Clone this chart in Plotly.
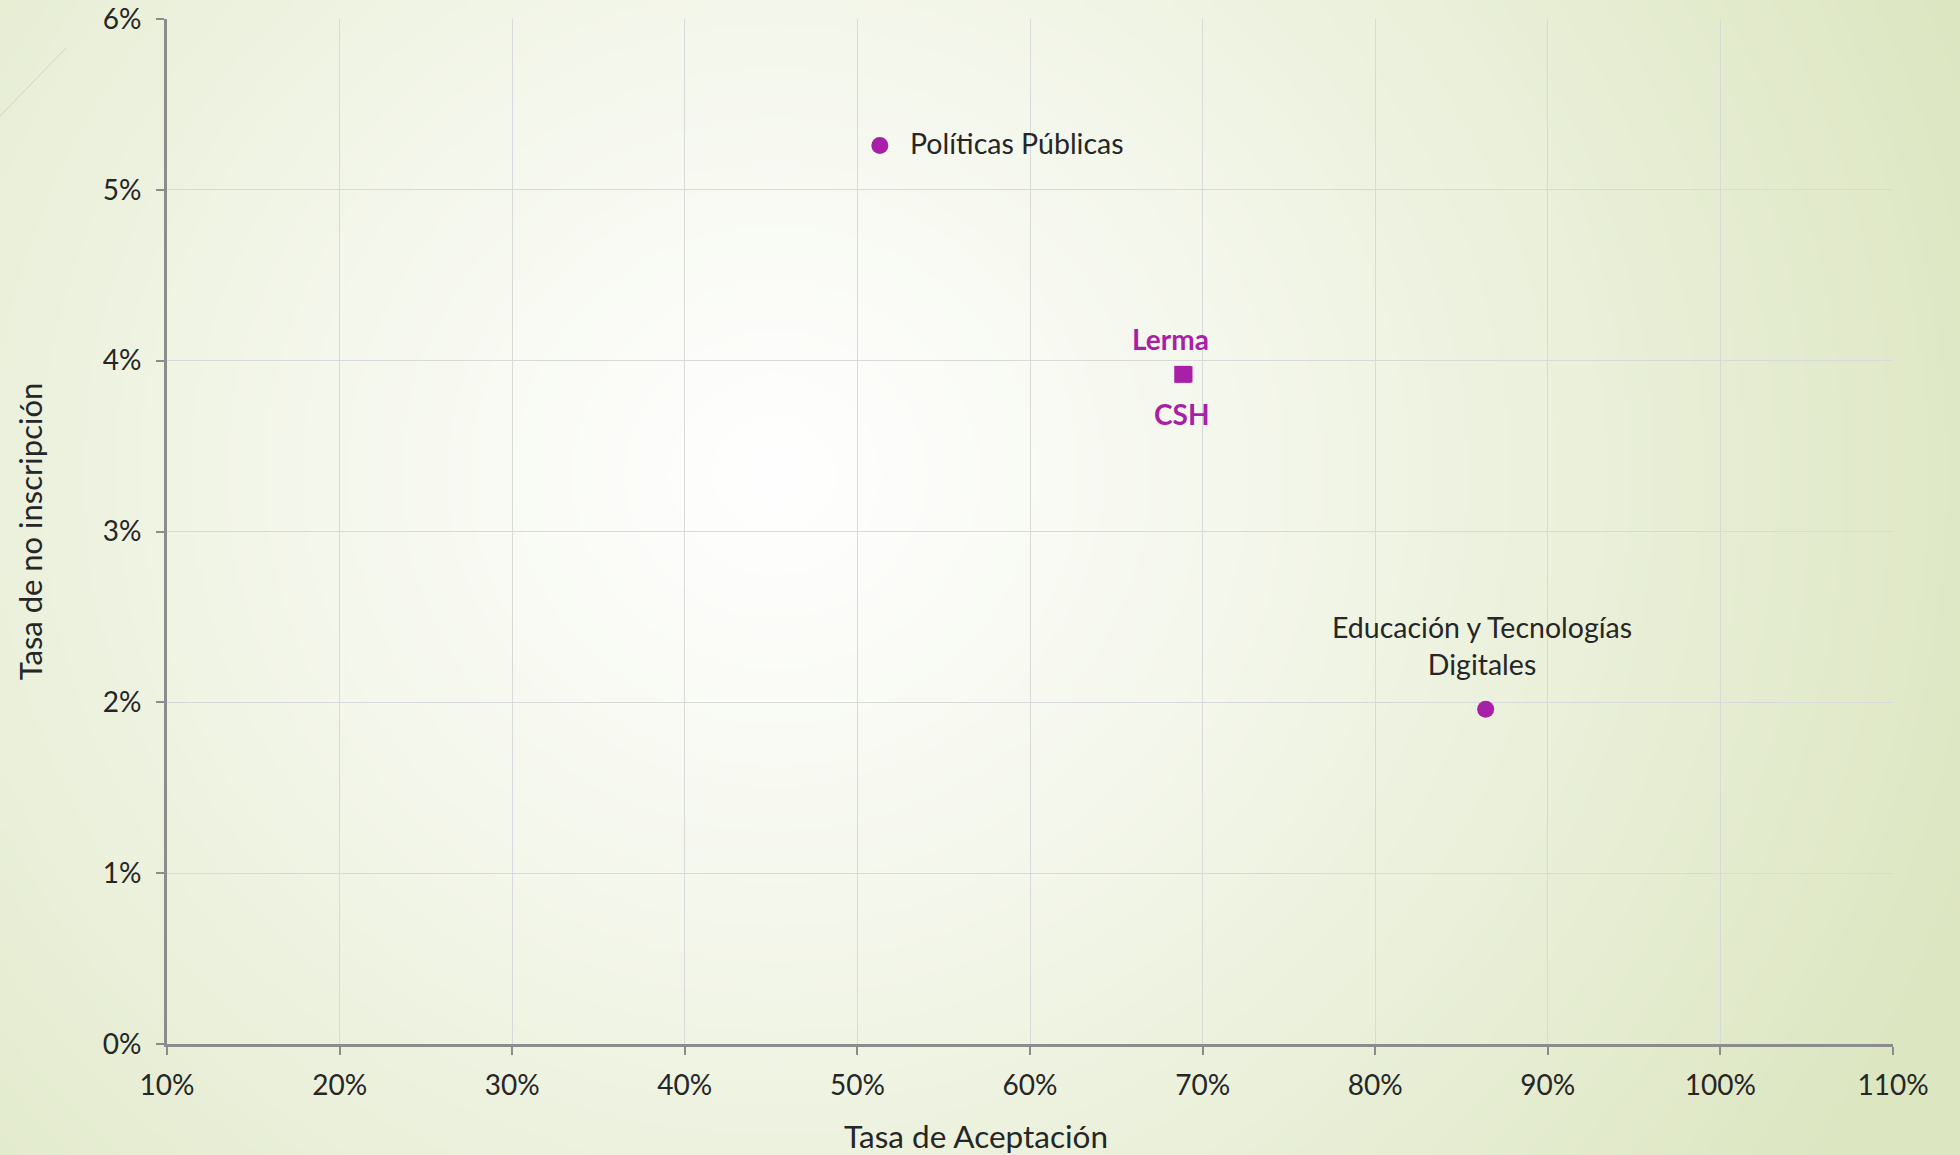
import base64, struct, zlib
import numpy as np
import plotly.graph_objects as go

# ---- data ----
programs = ["Políticas Públicas", "Educación y Tecnologías<br>Digitales"]
prog_accept = [0.513, 0.864]
prog_noenroll = [0.0526, 0.0196]

groups = ["Lerma", "CSH"]
group_accept = [0.6885, 0.6895]
group_noenroll = [0.0392, 0.0392]

x_ticks = [0.1, 0.2, 0.3, 0.4, 0.5, 0.6, 0.7, 0.8, 0.9, 1.0, 1.1]
y_ticks = [0, 0.01, 0.02, 0.03, 0.04, 0.05, 0.06]

x_title = "Tasa de Aceptación"
y_title = "Tasa de no inscripción"

W, H = 1960, 1155
ML, MR, MT, MB = 167, 67, 19, 111
PW, PH = W - ML - MR, H - MT - MB

MAG = "#A81FA8"
TXT = "#262626"
FONT = "Lato"


# ---- background radial gradient as PNG ----
def make_png(arr):
    h, w, _ = arr.shape
    raw = b"".join(b"\x00" + arr[i].tobytes() for i in range(h))

    def chunk(t, d):
        c = struct.pack(">I", len(d)) + t + d
        return c + struct.pack(">I", zlib.crc32(t + d) & 0xffffffff)

    png = b"\x89PNG\r\n\x1a\n"
    png += chunk(b"IHDR", struct.pack(">IIBBBBB", w, h, 8, 2, 0, 0, 0))
    png += chunk(b"IDAT", zlib.compress(raw, 9))
    png += chunk(b"IEND", b"")
    return "data:image/png;base64," + base64.b64encode(png).decode()


gw, gh = 392, 231
yy, xx = np.mgrid[0:gh, 0:gw]
px = (xx + 0.5) * W / gw
py = (yy + 0.5) * H / gh
d = np.sqrt((px - 775) ** 2 + ((py - 475) * 1.05) ** 2)
t = np.clip(d / 1300.0, 0, 1) ** 1.15
c0 = np.array([255, 255, 255], float)
c1 = np.array([220, 230, 192], float)
img = (c0[None, None, :] * (1 - t[..., None]) + c1[None, None, :] * t[..., None])
img = np.clip(img, 0, 255).astype(np.uint8)
bg_src = make_png(img)

fig = go.Figure()

fig.add_trace(go.Scatter(
    x=prog_accept, y=prog_noenroll, mode="markers",
    marker=dict(color=MAG, size=17, symbol="circle"),
    hoverinfo="skip", showlegend=False))
fig.add_trace(go.Scatter(
    x=[group_accept[1]], y=[group_noenroll[1]], mode="markers",
    marker=dict(color=MAG, size=16, symbol="square"),
    hoverinfo="skip", showlegend=False))
fig.add_trace(go.Scatter(
    x=[group_accept[0]], y=[group_noenroll[0]], mode="markers",
    marker=dict(color=MAG, size=17, symbol="square"),
    hoverinfo="skip", showlegend=False))

# labels
fig.add_annotation(x=prog_accept[0], y=prog_noenroll[0], text=programs[0],
                   showarrow=False, xanchor="left", yanchor="middle", xshift=28, yshift=2,
                   font=dict(family=FONT, size=28.5, color=TXT))
fig.add_annotation(x=prog_accept[1], y=prog_noenroll[1], text=programs[1],
                   showarrow=False, xanchor="center", yanchor="bottom", yshift=26, xshift=-4,
                   font=dict(family=FONT, size=28.5, color=TXT), align="center")
fig.add_annotation(x=group_accept[0], y=group_noenroll[0], text="<b>" + groups[0] + "</b>",
                   showarrow=False, xanchor="center", yanchor="middle", yshift=35, xshift=-12,
                   font=dict(family=FONT, size=28, color=MAG))
fig.add_annotation(x=group_accept[1], y=group_noenroll[1], text="<b>" + groups[1] + "</b>",
                   showarrow=False, xanchor="center", yanchor="middle", yshift=-40, xshift=-3,
                   font=dict(family=FONT, size=28, color=MAG))

# x axis title (placed left of centre as in the original)
fig.add_annotation(xref="paper", yref="paper", x=(976 - ML) / PW, y=(H - MB - 1136) / PH,
                   text=x_title, showarrow=False, xanchor="center", yanchor="middle",
                   font=dict(family=FONT, size=31.5, color=TXT))

axis_common = dict(
    showgrid=True, gridcolor="#D9D9D9", gridwidth=1,
    showline=True, linecolor="#8C8C8C", linewidth=3,
    ticks="outside", ticklen=8, tickwidth=2, tickcolor="#8C8C8C",
    tickfont=dict(family=FONT, size=28, color=TXT),
    tickformat=".0%", zeroline=False, mirror=False, automargin=False,
)

fig.update_xaxes(range=[0.1, 1.1], tickvals=x_ticks, ticklabelstandoff=6, **axis_common)
fig.update_yaxes(range=[0, 0.06], tickvals=y_ticks, ticklabelstandoff=9, **axis_common,
                 title=dict(text=y_title, standoff=51,
                            font=dict(family=FONT, size=31, color=TXT)))

# decorative thin diagonal line (top-left)
fig.add_shape(type="line", xref="paper", yref="paper",
              x0=(0 - ML) / PW, y0=(H - MB - 116) / PH,
              x1=(66 - ML) / PW, y1=(H - MB - 48) / PH,
              line=dict(color="#CDD3BE", width=1))

fig.add_layout_image(dict(
    source=bg_src, xref="paper", yref="paper",
    x=-ML / PW, y=1 + MT / PH, sizex=W / PW, sizey=H / PH,
    xanchor="left", yanchor="top", sizing="stretch", layer="below"))

fig.update_layout(
    width=W, height=H,
    margin=dict(l=ML, r=MR, t=MT, b=MB, autoexpand=False),
    paper_bgcolor="#E6ECD4", plot_bgcolor="rgba(0,0,0,0)",
    showlegend=False,
)

fig.write_html("out.html", config={"displayModeBar": False},
               post_script="document.body.style.margin='0';document.body.style.overflow='hidden';")
